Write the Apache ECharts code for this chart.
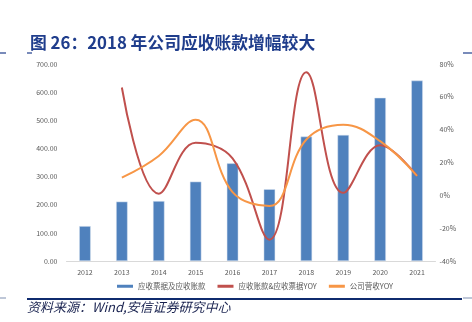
<!DOCTYPE html>
<html>
<head>
<meta charset="utf-8">
<script src="https://cdn.jsdelivr.net/npm/echarts@6/dist/echarts.min.js"></script>
<style>
  html, body { margin: 0; padding: 0; background: #fff; }
  #chart { width: 472px; height: 322px; }
</style>
</head>
<body>
<div id="chart"></div>
<script>
// Years on the category axis
const years = ['2012', '2013', '2014', '2015', '2016', '2017', '2018', '2019', '2020', '2021'];
// Notes + accounts receivable (left axis)
const receivables = [124, 211, 213, 282, 347, 255, 442, 448, 580, 641];
// Receivables YoY growth, % (right axis)
const receivablesYoy = [null, 65.7, 1, 32, 22.5, -27, 75, 1.5, 30.5, 11.8];
// Company revenue YoY growth, % (right axis)
const revenueYoy = [null, 10.8, 24, 46, 2, -6.5, 34, 43, 33, 11.8];

const seriesNames = ['应收票据及应收账款', '应收账款&应收票据YOY', '公司营收YOY'];
const titleText = '图 26：2018 年公司应收账款增幅较大';
const sourceText = '资料来源：Wind,安信证券研究中心';

const chart = echarts.init(document.getElementById('chart'), null, { renderer: 'canvas' });
const cjk = '"Noto Sans CJK SC", "Noto Sans", sans-serif';
const navy = '#1f3d8c';

chart.setOption({
  animation: false,
  textStyle: { fontFamily: cjk },
  title: {
    text: titleText,
    left: 25,
    top: 29,
    textStyle: { fontSize: 16.8, fontWeight: 'bold', color: navy, fontFamily: cjk }
  },
  legend: {
    bottom: 27,
    left: 112,
    itemWidth: 16,
    itemHeight: 3,
    itemGap: 12,
    icon: 'rect',
    textStyle: { fontSize: 7.5, color: '#595959', fontFamily: cjk },
    data: [
      { name: seriesNames[0], itemStyle: { borderWidth: 0, color: '#4f81bd' } },
      seriesNames[1],
      seriesNames[2]
    ]
  },
  grid: { left: 66.5, right: 36.5, top: 64, bottom: 61 },
  xAxis: {
    type: 'category',
    data: years,
    axisTick: { show: false },
    axisLine: { lineStyle: { color: '#d9d9d9' } },
    axisLabel: { fontSize: 7, color: '#595959', margin: 8 }
  },
  yAxis: [
    {
      type: 'value', min: 0, max: 700, interval: 100,
      splitLine: { show: false },
      axisLine: { show: false }, axisTick: { show: false },
      axisLabel: { fontSize: 7, color: '#595959', margin: 9, formatter: v => v.toFixed(2) }
    },
    {
      type: 'value', min: -40, max: 80, interval: 20,
      splitLine: { show: false },
      axisLine: { show: false }, axisTick: { show: false },
      axisLabel: { fontSize: 7, color: '#595959', margin: 4, formatter: v => v + '%' }
    }
  ],
  series: [
    {
      name: seriesNames[0], type: 'bar', data: receivables, barWidth: 11.5,
      itemStyle: { color: '#4f81bd', borderColor: '#dbe5f1', borderWidth: 0.5 }
    },
    {
      name: seriesNames[1], type: 'line', yAxisIndex: 1, data: receivablesYoy,
      smooth: 0.4, showSymbol: false,
      lineStyle: { color: '#c0504d', width: 2 }, itemStyle: { color: '#c0504d' }
    },
    {
      name: seriesNames[2], type: 'line', yAxisIndex: 1, data: revenueYoy,
      smooth: 0.4, showSymbol: false,
      lineStyle: { color: '#f79646', width: 2 }, itemStyle: { color: '#f79646' }
    }
  ],
  graphic: [
    { type: 'line', shape: { x1: 0, y1: 53, x2: 6, y2: 53 }, style: { stroke: navy, lineWidth: 1.2 } },
    { type: 'line', shape: { x1: 27, y1: 53, x2: 32, y2: 53 }, style: { stroke: navy, lineWidth: 1.2 } },
    { type: 'line', shape: { x1: 463, y1: 53, x2: 472, y2: 53 }, style: { stroke: navy, lineWidth: 1.2 } },
    { type: 'line', shape: { x1: 27, y1: 299, x2: 462, y2: 299 }, style: { stroke: '#0f2b6e', lineWidth: 2 } },
    { type: 'line', shape: { x1: 0, y1: 298, x2: 6, y2: 298 }, style: { stroke: '#7f8fb0', lineWidth: 1 } },
    { type: 'line', shape: { x1: 463, y1: 298, x2: 472, y2: 298 }, style: { stroke: '#7f8fb0', lineWidth: 1 } },
    {
      type: 'text', left: 27, top: 301,
      style: { text: sourceText, font: 'italic 13px ' + cjk, fill: '#1a2350' }
    }
  ]
});
</script>
</body>
</html>
